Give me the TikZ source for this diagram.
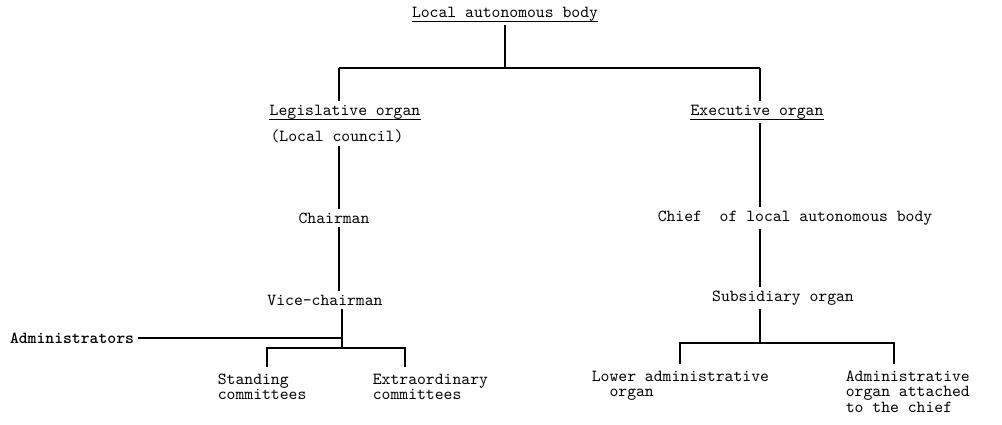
\documentclass[tikz,border=0pt]{standalone}
\tikzset{
  organ/.style = {font=\ttfamily\fontsize{9.6}{8.8}\selectfont, inner sep=2pt, align=left},
  wire/.style  = {line width=0.9pt},
  typed/.style = {line width=0.6pt}
}

\begin{document}
\begin{tikzpicture}[x=0.02cm,y=-0.02cm]
  \useasboundingbox (0,0) rectangle (1002,424);
  % top
  \node[organ] (body) at (505,14) {Local autonomous body};
  \coordinate (split) at (505,68);
  \coordinate (lx) at (339,0);
  \coordinate (rx) at (760,0);
  % legislative side
  \node[organ] (leg)     at (345,112) {Legislative organ};
  \node[organ] (council) at (337,136) {(Local council)};
  \node[organ] (chair)   at (334,218) {Chairman};
  \node[organ] (vice)    at (325,300) {Vice-chairman};
  \node[organ] (admin)   at (72,338)  {\bfseries Administrators};
  \coordinate (lfork) at (342,348);
  \coordinate (sdrop) at (267,367);
  \coordinate (edrop) at (405,367);
  \node[organ,anchor=north west] (standing) at (214,370) {Standing\\committees};
  \node[organ,anchor=north west] (extra)    at (369,370) {Extraordinary\\committees};
  % executive side
  \node[organ] (exec)  at (757,112) {Executive organ};
  \node[organ] (chief) at (795,218) {Chief\ \ of local autonomous body};
  \node[organ] (sub)   at (783,298) {Subsidiary organ};
  \coordinate (rfork) at (760,343);
  \coordinate (ldrop) at (680,364);
  \coordinate (adrop) at (894,364);
  \node[organ,anchor=north west] (lower)  at (588,367) {Lower administrative\\\ \ organ};
  \node[organ,anchor=north west] (attach) at (842,367) {Administrative\\organ attached\\to the chief};
  % underlines
  \foreach \n in {body,leg,exec}
    \draw[typed] ([shift={(2pt,-2.5pt)}]\n.base west) -- ([shift={(-2pt,-2.5pt)}]\n.base east);
  % lines
  \draw[wire] (body.south) -- (split);
  \draw[wire] (split -| lx) -- (split -| rx);
  \draw[wire] (split -| lx) -- (leg.north -| lx);
  \draw[wire] (split -| rx) -- (exec.north -| rx);
  \draw[wire] (council.south -| lx) -- (chair.north -| lx);
  \draw[wire] (chair.south -| lx) -- (vice.north -| lx);
  \draw[wire] (vice.south -| lfork) -- (lfork);
  \draw[wire] (admin.east) -- (admin.east -| lfork);
  \draw[wire] (sdrop) |- (lfork) -| (edrop);
  \draw[wire] (exec.south -| rx) -- (chief.north -| rx);
  \draw[wire] (chief.south -| rx) -- (sub.north -| rx);
  \draw[wire] (sub.south -| rx) -- (rfork);
  \draw[wire] (ldrop) |- (rfork) -| (adrop);
\end{tikzpicture}
\end{document}
